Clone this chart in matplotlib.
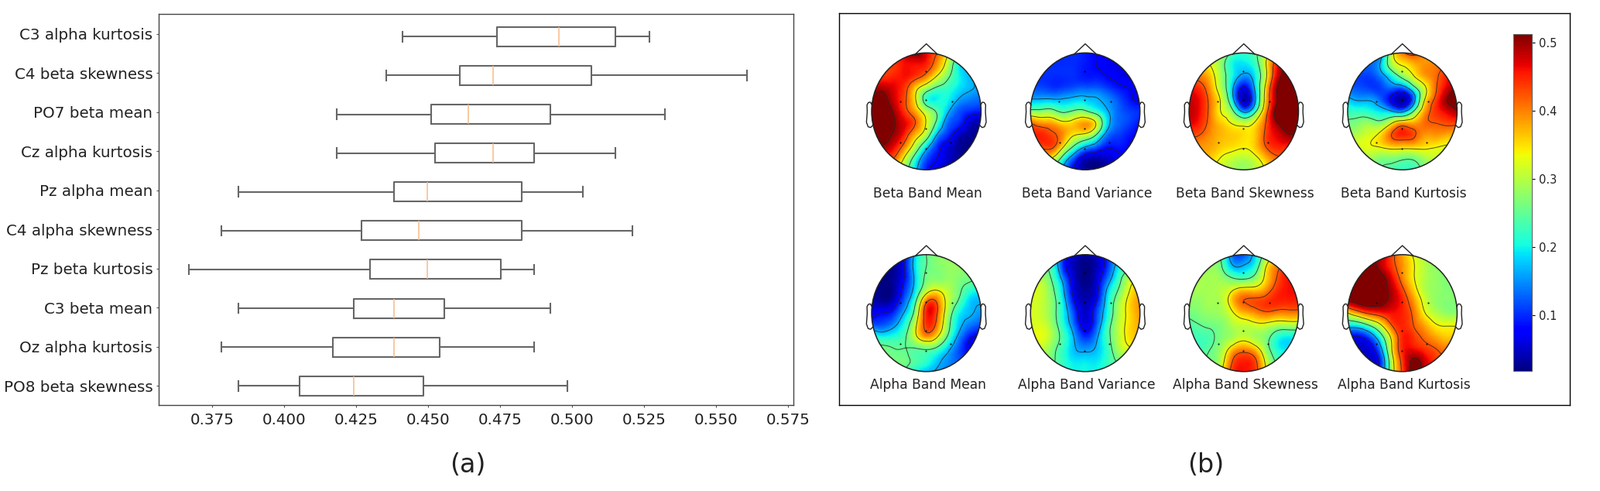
import numpy as np
import matplotlib
matplotlib.use("Agg")
import matplotlib.pyplot as plt
from matplotlib.patches import Circle
from matplotlib.cm import ScalarMappable
from matplotlib.colors import Normalize
from matplotlib.tri import Triangulation, UniformTriRefiner

W, H = 2067, 634

# panel (a)
feature_names = ["C3 alpha kurtosis", "C4 beta skewness", "PO7 beta mean", "Cz alpha kurtosis",
                 "Pz alpha mean", "C4 alpha skewness", "Pz beta kurtosis", "C3 beta mean",
                 "Oz alpha kurtosis", "PO8 beta skewness"]
whisker_low = [0.4411, 0.4355, 0.4182, 0.4182, 0.3841, 0.3783, 0.3668, 0.3841, 0.3783, 0.3841]
q1_values = [0.4738, 0.4609, 0.4509, 0.4524, 0.4380, 0.4268, 0.4297, 0.4240, 0.4168, 0.4053]
median_values = [0.4953, 0.4724, 0.4638, 0.4724, 0.4497, 0.4468, 0.4497, 0.4380, 0.4380, 0.4240]
q3_values = [0.5151, 0.5067, 0.4923, 0.4867, 0.4824, 0.4824, 0.4753, 0.4555, 0.4540, 0.4482]
whisker_high = [0.5267, 0.5608, 0.5323, 0.5151, 0.5038, 0.5209, 0.4867, 0.4923, 0.4867, 0.4982]
x_ticks = [0.375, 0.400, 0.425, 0.450, 0.475, 0.500, 0.525, 0.550, 0.575]

# panel (b): values read on a 11x11 grid, top row first, left column first
beta_mean = [
    [.45, .45, .46, .47, .52, .47, .42, .34, .27, .20, .17],
    [.44, .44, .44, .46, .46, .45, .39, .30, .20, .18, .15],
    [.45, .44, .45, .46, .44, .40, .33, .26, .20, .17, .15],
    [.48, .49, .47, .44, .36, .29, .24, .22, .19, .17, .15],
    [.52, .52, .48, .43, .34, .22, .20, .20, .16, .14, .13],
    [.53, .53, .50, .44, .38, .30, .24, .17, .12, .10, .09],
    [.53, .53, .51, .47, .42, .33, .23, .13, .10, .05, .04],
    [.53, .52, .50, .45, .37, .29, .16, .10, .05, .03, .02],
    [.50, .50, .47, .40, .30, .19, .10, .06, .03, .02, .02],
    [.45, .44, .42, .33, .22, .12, .08, .05, .03, .02, .02],
    [.42, .40, .36, .28, .18, .09, .06, .04, .03, .02, .02]]
beta_variance = [
    [.10, .10, .10, .10, .10, .09, .08, .07, .06, .06, .06],
    [.10, .10, .10, .10, .10, .09, .08, .07, .06, .05, .05],
    [.10, .10, .10, .10, .10, .09, .09, .08, .07, .06, .06],
    [.12, .115, .105, .11, .12, .125, .125, .11, .09, .08, .07],
    [.17, .17, .17, .17, .18, .18, .17, .15, .12, .09, .07],
    [.27, .27, .27, .24, .26, .26, .22, .17, .13, .11, .10],
    [.42, .39, .38, .35, .36, .385, .33, .19, .13, .11, .085],
    [.45, .45, .43, .39, .34, .32, .25, .14, .11, .09, .08],
    [.43, .43, .43, .34, .24, .17, .13, .09, .09, .08, .08],
    [.35, .35, .33, .22, .12, .05, .04, .05, .07, .08, .08],
    [.25, .25, .22, .15, .07, .03, .02, .03, .05, .07, .07]]
beta_skewness = [
    [.33, .33, .32, .30, .24, .22, .24, .30, .37, .42, .45],
    [.38, .36, .33, .27, .20, .19, .22, .33, .45, .50, .50],
    [.42, .40, .36, .28, .20, .15, .19, .32, .47, .52, .52],
    [.46, .44, .38, .29, .17, .07, .17, .35, .50, .53, .53],
    [.48, .46, .40, .32, .18, .04, .15, .36, .50, .53, .53],
    [.49, .46, .40, .33, .26, .15, .23, .39, .52, .53, .53],
    [.47, .45, .40, .36, .33, .31, .34, .42, .50, .52, .52],
    [.43, .42, .39, .37, .36, .35, .36, .43, .47, .50, .50],
    [.40, .39, .38, .36, .35, .34, .36, .42, .45, .45, .45],
    [.37, .37, .36, .33, .31, .30, .32, .37, .41, .41, .41],
    [.33, .33, .33, .31, .29, .28, .30, .34, .38, .38, .38]]
beta_kurtosis = [
    [.12, .12, .12, .13, .30, .41, .44, .40, .38, .40, .42],
    [.12, .12, .13, .17, .29, .34, .37, .39, .40, .42, .44],
    [.11, .11, .11, .14, .20, .27, .33, .38, .41, .45, .46],
    [.13, .12, .11, .11, .13, .13, .22, .32, .41, .47, .51],
    [.18, .16, .16, .13, .07, .03, .13, .33, .43, .50, .52],
    [.22, .22, .21, .19, .17, .15, .25, .38, .44, .47, .50],
    [.26, .27, .28, .27, .33, .38, .38, .41, .42, .43, .43],
    [.29, .30, .32, .35, .42, .45, .43, .39, .39, .38, .38],
    [.32, .32, .33, .34, .36, .36, .36, .35, .34, .33, .33],
    [.29, .29, .29, .27, .27, .26, .26, .29, .31, .31, .31],
    [.27, .27, .27, .25, .24, .22, .23, .26, .29, .30, .30]]
alpha_mean = [
    [.04, .04, .04, .08, .18, .25, .27, .28, .28, .28, .28],
    [.03, .03, .03, .08, .19, .25, .27, .28, .28, .27, .27],
    [.03, .02, .03, .08, .18, .26, .27, .28, .27, .26, .25],
    [.03, .02, .03, .10, .19, .30, .33, .30, .26, .22, .20],
    [.04, .03, .05, .13, .24, .41, .41, .31, .24, .18, .17],
    [.07, .08, .10, .17, .28, .45, .42, .29, .20, .17, .15],
    [.12, .12, .15, .21, .32, .44, .40, .27, .18, .14, .12],
    [.22, .20, .21, .24, .32, .39, .34, .24, .15, .09, .07],
    [.26, .26, .25, .25, .25, .26, .24, .18, .12, .07, .06],
    [.27, .27, .26, .26, .24, .22, .18, .15, .12, .10, .09],
    [.27, .27, .26, .25, .20, .17, .16, .14, .13, .12, .11]]
alpha_variance = [
    [.27, .25, .20, .12, .05, .03, .05, .10, .17, .24, .26],
    [.28, .25, .22, .10, .04, .02, .04, .10, .19, .24, .26],
    [.31, .29, .24, .14, .05, .02, .05, .13, .22, .30, .33],
    [.33, .31, .26, .17, .06, .03, .06, .17, .25, .33, .37],
    [.32, .31, .27, .19, .08, .04, .08, .19, .28, .35, .39],
    [.32, .31, .27, .20, .11, .05, .11, .20, .29, .35, .39],
    [.32, .32, .28, .21, .13, .06, .12, .22, .30, .35, .38],
    [.32, .33, .29, .23, .16, .10, .15, .23, .30, .35, .37],
    [.31, .31, .27, .22, .17, .15, .17, .22, .29, .33, .35],
    [.29, .29, .26, .22, .19, .19, .19, .22, .26, .29, .30],
    [.27, .27, .25, .22, .20, .20, .20, .22, .24, .26, .28]]
alpha_skewness = [
    [.27, .27, .27, .24, .13, .12, .18, .27, .34, .40, .42],
    [.28, .28, .28, .25, .17, .17, .21, .33, .40, .45, .45],
    [.29, .29, .29, .28, .25, .24, .27, .35, .42, .46, .46],
    [.29, .29, .29, .30, .33, .36, .36, .39, .44, .46, .46],
    [.28, .28, .29, .30, .37, .42, .43, .44, .45, .45, .45],
    [.26, .27, .28, .29, .33, .37, .39, .41, .40, .40, .40],
    [.24, .25, .26, .27, .30, .31, .32, .32, .30, .30, .30],
    [.23, .23, .24, .27, .29, .31, .29, .27, .22, .20, .20],
    [.23, .23, .25, .29, .36, .39, .36, .28, .21, .19, .19],
    [.25, .25, .26, .31, .42, .45, .43, .32, .24, .22, .22],
    [.25, .25, .27, .33, .44, .46, .44, .34, .26, .24, .24]]
alpha_kurtosis = [
    [.51, .51, .51, .50, .44, .38, .33, .30, .29, .28, .28],
    [.52, .52, .52, .49, .44, .39, .34, .30, .28, .28, .28],
    [.52, .52, .52, .52, .47, .40, .34, .30, .28, .27, .27],
    [.52, .52, .52, .52, .49, .43, .36, .30, .28, .27, .27],
    [.50, .52, .53, .52, .49, .45, .39, .32, .28, .27, .27],
    [.33, .39, .43, .45, .46, .45, .41, .34, .30, .28, .28],
    [.20, .21, .26, .33, .42, .45, .42, .38, .34, .33, .33],
    [.08, .08, .12, .22, .35, .45, .44, .41, .38, .36, .36],
    [.05, .05, .06, .15, .33, .45, .46, .44, .42, .40, .40],
    [.05, .05, .05, .10, .30, .44, .51, .48, .44, .42, .42],
    [.05, .05, .05, .10, .29, .43, .52, .49, .45, .43, .43]]

map_titles = ["Beta Band Mean", "Beta Band Variance", "Beta Band Skewness", "Beta Band Kurtosis",
              "Alpha Band Mean", "Alpha Band Variance", "Alpha Band Skewness", "Alpha Band Kurtosis"]
map_values = [beta_mean, beta_variance, beta_skewness, beta_kurtosis,
              alpha_mean, alpha_variance, alpha_skewness, alpha_kurtosis]
contour_levels = [.08, .165, .25, .335, .42, .505]
electrode_x = [-0.01, -0.48, -0.01, 0.47, -0.01, -0.47, -0.01, 0.44]
electrode_y = [0.69, 0.17, 0.19, 0.17, -0.30, -0.53, -0.64, -0.53]
ear_x = [.994, 1.02, 1.036, 1.06, 1.084, 1.08, 1.094, 1.064, 1.02, .978]
ear_y = [.111, .155, .157, .149, .111, -.011, -.186, -.263, -.277, -.240]
nose_x = [-0.2, 0, 0.2]
nose_y = [0.98, 1.155, 0.98]
cbar_ticks = [0.1, 0.2, 0.3, 0.4, 0.5]
vmin, vmax = 0.0175, 0.5125


def px_axes(left, top, right, bottom):
    # axes from pixel box of the image (y down)
    return fig.add_axes([left / W, 1 - bottom / H, (right - left) / W, (bottom - top) / H])


fig = plt.figure(figsize=(W / 100, H / 100), dpi=100)
text_color = "#222222"

# boxplot
ax = px_axes(205, 18.3, 1025, 523.3)
stats = []
for i in range(len(feature_names)):
    stats.append({"whislo": whisker_low[i], "q1": q1_values[i], "med": median_values[i],
                  "q3": q3_values[i], "whishi": whisker_high[i], "fliers": []})
positions = np.arange(len(feature_names), 0, -1)
line = dict(color="#666666", linewidth=1.5)
ax.bxp(stats, positions=positions, orientation="horizontal", showfliers=False, manage_ticks=False,
       boxprops=line, whiskerprops=line, capprops=line,
       medianprops=dict(color="#f6bb88", linewidth=1.1))
ax.set_xlim(0.3564, 0.5768)
ax.set_ylim(0.5, 10.58)
ax.set_xticks(x_ticks)
ax.set_xticklabels([f"{t:.3f}" for t in x_ticks])
# the labels sit a little higher than the boxes at the top of the panel
ax.set_yticks(1 + (positions - 1) * 1.0075)
ax.set_yticklabels(feature_names)
ax.tick_params(axis="both", labelsize=14.3, length=2.5, width=0.8, color="#555555", labelcolor=text_color)
ax.tick_params(axis="y", pad=3)
ax.tick_params(axis="x", pad=4.5)
for s in ax.spines.values():
    s.set_color("#444444")
    s.set_linewidth(1.0)

# frame of panel (b)
frame = px_axes(1084.3, 17.3, 2027.5, 523.3)
frame.set_xticks([])
frame.set_yticks([])
for s in frame.spines.values():
    s.set_linewidth(1.0)
    s.set_color("black")

# head maps
grid = np.linspace(-1, 1, 11)
gx, gy = np.meshgrid(grid, grid[::-1])
triang = Triangulation(gx.ravel(), gy.ravel())
refiner = UniformTriRefiner(triang)
centers_x = [1196.7, 1402, 1606.8, 1811.7]
centers_y = [143.8, 404.3]
rx, ry = 70.7, 75.5
title_y = [250, 497]
m = 1.25
for k, (title, values) in enumerate(zip(map_titles, map_values)):
    cx = centers_x[k % 4]
    cy = centers_y[k // 4]
    a = px_axes(cx - rx * m, cy - ry * m, cx + rx * m, cy + ry * m)
    a.set_xlim(-m, m)
    a.set_ylim(-m, m)
    a.axis("off")
    z = np.array(values)
    tri_f, z_f = refiner.refine_field(z.ravel(), subdiv=3)
    head = Circle((0, 0), 1, transform=a.transData, fill=False, edgecolor="#222222", linewidth=1.1, zorder=4)
    a.add_patch(head)
    img = a.tripcolor(tri_f, z_f, shading="gouraud", cmap="jet", vmin=vmin, vmax=vmax)
    img.set_clip_path(head)
    cs = a.tricontour(tri_f, z_f, levels=contour_levels, colors="#222222", linewidths=0.7, alpha=0.8,
                      linestyles="solid")
    cs.set_clip_path(head)
    a.plot(electrode_x, electrode_y, ".", color="k", ms=1.0, zorder=3)
    a.plot(nose_x, nose_y, color="#222222", lw=1.0)
    a.plot(ear_x, ear_y, color="#222222", lw=1.0)
    a.plot([-v for v in ear_x], ear_y, color="#222222", lw=1.0)
    fig.text((cx + 2) / W, 1 - title_y[k // 4] / H, title, ha="center", va="center",
             fontsize=12.3, color=text_color)

# colorbar
cax = px_axes(1955.4, 44, 1979, 479.3)
cb = fig.colorbar(ScalarMappable(Normalize(vmin, vmax), "jet"), cax=cax, ticks=cbar_ticks)
cb.ax.tick_params(labelsize=10.5, length=3, width=0.8, labelcolor=text_color)
cb.outline.set_edgecolor("#666666")

fig.text(604 / W, 1 - 601 / H, "(a)", ha="center", va="center", fontsize=24, color=text_color)
fig.text(1558 / W, 1 - 601 / H, "(b)", ha="center", va="center", fontsize=24, color=text_color)

fig.savefig("out.png", dpi=100)
